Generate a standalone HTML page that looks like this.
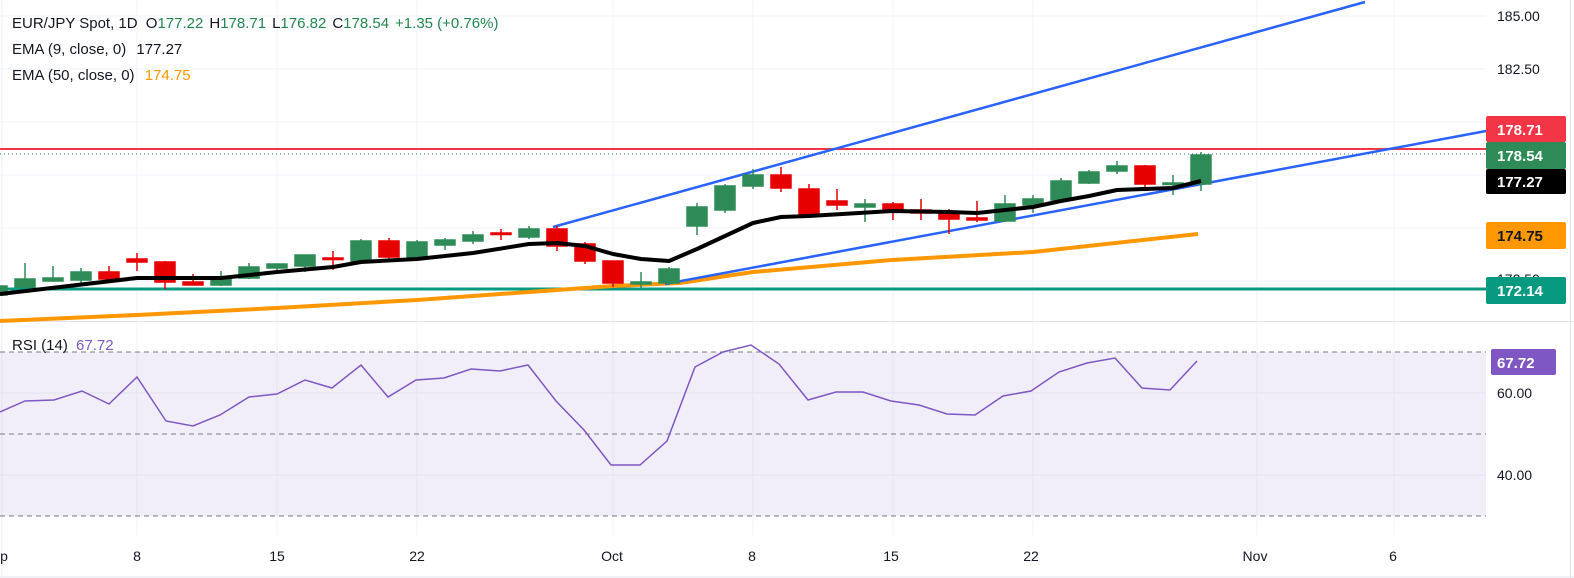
<!DOCTYPE html>
<html><head><meta charset="utf-8"><style>
html,body{margin:0;padding:0;background:#fff;}
svg{display:block;font-family:"Liberation Sans",sans-serif;}
</style></head><body>
<svg width="1574" height="578" viewBox="0 0 1574 578" xmlns="http://www.w3.org/2000/svg">
<rect width="1574" height="578" fill="#fff"/>
<!-- grid -->
<g stroke="#f0f3fa" stroke-width="1">
<line x1="0" y1="16" x2="1486" y2="16"/><line x1="0" y1="69" x2="1486" y2="69"/>
<line x1="0" y1="122" x2="1486" y2="122"/><line x1="0" y1="175" x2="1486" y2="175"/>
<line x1="0" y1="228" x2="1486" y2="228"/><line x1="0" y1="281" x2="1486" y2="281"/>
<line x1="0" y1="393" x2="1486" y2="393"/><line x1="0" y1="475" x2="1486" y2="475"/>
<line x1="137" y1="0" x2="137" y2="535"/><line x1="277" y1="0" x2="277" y2="535"/>
<line x1="417" y1="0" x2="417" y2="535"/><line x1="613" y1="0" x2="613" y2="535"/>
<line x1="753" y1="0" x2="753" y2="535"/><line x1="893" y1="0" x2="893" y2="535"/>
<line x1="1033" y1="0" x2="1033" y2="535"/><line x1="1257" y1="0" x2="1257" y2="535"/>
<line x1="1394" y1="0" x2="1394" y2="535"/>
</g>
<line x1="0" y1="321.5" x2="1574" y2="321.5" stroke="#e0e3eb"/>
<line x1="1570.5" y1="0" x2="1570.5" y2="578" stroke="#e0e3eb"/>
<line x1="0" y1="577" x2="1574" y2="577" stroke="#e0e3eb"/>
<line x1="2" y1="0" x2="2" y2="578" stroke="#eceff4"/>

<!-- horizontal levels -->
<line x1="0" y1="149" x2="1486" y2="149" stroke="#f23645" stroke-width="2"/>
<line x1="0" y1="154" x2="1486" y2="154" stroke="#2e7d5b" stroke-width="1" stroke-dasharray="1,3"/>
<line x1="0" y1="289" x2="1486" y2="289" stroke="#089981" stroke-width="3"/>

<!-- EMA50 -->
<polyline fill="none" stroke="#ff9800" stroke-width="4" stroke-linejoin="round" points="0,321 137,315 277,308 417,300 557,290 613,286 680,283 753,272 892,260 1033,252 1198,234"/>
<!-- channel -->
<line x1="553" y1="227" x2="1365" y2="2" stroke="#2962ff" stroke-width="2.5"/>
<line x1="665" y1="284" x2="1486" y2="131" stroke="#2962ff" stroke-width="2.5"/>
<line x1="1486" y1="131" x2="1492" y2="130" stroke="#2962ff" stroke-width="2.5"/>

<!-- candles -->
<g stroke-width="1.5">
<g stroke="#2e8b57" fill="#2e8b57">
<rect x="-13" y="286" width="20" height="9"/>
<line x1="25" y1="263" x2="25" y2="287"/><rect x="15" y="279" width="20" height="8"/>
<line x1="53" y1="266" x2="53" y2="282"/><rect x="43" y="278" width="20" height="3"/>
<line x1="81" y1="268" x2="81" y2="283"/><rect x="71" y="272" width="20" height="8"/>
<line x1="221" y1="271" x2="221" y2="286"/><rect x="211" y="277" width="20" height="8"/>
<line x1="249" y1="263" x2="249" y2="279"/><rect x="239" y="267" width="20" height="11"/>
<line x1="277" y1="264" x2="277" y2="274"/><rect x="267" y="264" width="20" height="4"/>
<line x1="305" y1="255" x2="305" y2="272"/><rect x="295" y="255" width="20" height="11"/>
<line x1="361" y1="239" x2="361" y2="261"/><rect x="351" y="241" width="20" height="20"/>
<line x1="417" y1="240" x2="417" y2="258"/><rect x="407" y="242" width="20" height="15"/>
<line x1="445" y1="238" x2="445" y2="250"/><rect x="435" y="240" width="20" height="5"/>
<line x1="473" y1="231" x2="473" y2="244"/><rect x="463" y="235" width="20" height="6"/>
<line x1="529" y1="226" x2="529" y2="239"/><rect x="519" y="229" width="20" height="8"/>
<line x1="641" y1="272" x2="641" y2="288"/><rect x="631" y="282" width="20" height="2"/>
<line x1="669" y1="267" x2="669" y2="285"/><rect x="659" y="269" width="20" height="14"/>
<line x1="697" y1="203" x2="697" y2="235"/><rect x="687" y="207" width="20" height="19"/>
<line x1="725" y1="184" x2="725" y2="213"/><rect x="715" y="186" width="20" height="24"/>
<line x1="753" y1="169" x2="753" y2="189"/><rect x="743" y="175" width="20" height="11"/>
<line x1="865" y1="199" x2="865" y2="222"/><rect x="855" y="204" width="20" height="3"/>
<line x1="1005" y1="195" x2="1005" y2="222"/><rect x="995" y="204" width="20" height="17"/>
<line x1="1033" y1="195" x2="1033" y2="213"/><rect x="1023" y="199" width="20" height="6"/>
<line x1="1061" y1="178" x2="1061" y2="202"/><rect x="1051" y="181" width="20" height="19"/>
<line x1="1089" y1="170" x2="1089" y2="184"/><rect x="1079" y="172" width="20" height="11"/>
<line x1="1117" y1="161" x2="1117" y2="174"/><rect x="1107" y="166" width="20" height="5"/>
<line x1="1173" y1="175" x2="1173" y2="195"/><rect x="1163" y="183" width="20" height="1.5"/>
<line x1="1201" y1="152" x2="1201" y2="191"/><rect x="1191" y="155" width="20" height="29"/>
</g>
<g stroke="#e60000" fill="#e60000">
<line x1="109" y1="266" x2="109" y2="283"/><rect x="99" y="272" width="20" height="7"/>
<line x1="137" y1="253" x2="137" y2="271"/><rect x="127" y="259" width="20" height="3"/>
<line x1="165" y1="261" x2="165" y2="289"/><rect x="155" y="262" width="20" height="20"/>
<line x1="193" y1="274" x2="193" y2="285"/><rect x="183" y="282" width="20" height="3"/>
<line x1="333" y1="251" x2="333" y2="270"/><rect x="323" y="258" width="20" height="1.5"/>
<line x1="389" y1="238" x2="389" y2="262"/><rect x="379" y="241" width="20" height="16"/>
<line x1="501" y1="229" x2="501" y2="240"/><rect x="491" y="233" width="20" height="1.5"/>
<line x1="557" y1="226" x2="557" y2="251"/><rect x="547" y="229" width="20" height="17"/>
<line x1="585" y1="242" x2="585" y2="264"/><rect x="575" y="244" width="20" height="17"/>
<line x1="613" y1="261" x2="613" y2="287"/><rect x="603" y="261" width="20" height="22"/>
<line x1="781" y1="167" x2="781" y2="192"/><rect x="771" y="175" width="20" height="13"/>
<line x1="809" y1="184" x2="809" y2="216"/><rect x="799" y="189" width="20" height="25"/>
<line x1="837" y1="189" x2="837" y2="210"/><rect x="827" y="201" width="20" height="4"/>
<line x1="893" y1="202" x2="893" y2="220"/><rect x="883" y="204" width="20" height="7"/>
<line x1="921" y1="199" x2="921" y2="220"/><rect x="911" y="210" width="20" height="3"/>
<line x1="949" y1="209" x2="949" y2="234"/><rect x="939" y="213" width="20" height="6"/>
<line x1="977" y1="201" x2="977" y2="222"/><rect x="967" y="218" width="20" height="2"/>
<line x1="1145" y1="165" x2="1145" y2="187"/><rect x="1135" y="166" width="20" height="18"/>
</g>
</g>
<!-- EMA9 -->
<polyline fill="none" stroke="#000" stroke-width="4" stroke-linejoin="round" points="0,294 137,278 165,278 221,278 277,272 333,267 361,262 417,259 473,253 529,244 557,243 585,246 613,254 641,259 669,261 697,249 725,236 753,223 781,217 809,216 893,211 949,212 977,213 1033,207 1061,201 1089,196 1117,190 1145,189 1173,188 1201,181"/>

<!-- legend -->
<g font-size="15" fill="#131722">
<text x="12" y="28">EUR/JPY Spot, 1D <tspan dx="4">O</tspan><tspan fill="#22864f">177.22</tspan><tspan dx="6">H</tspan><tspan fill="#22864f">178.71</tspan><tspan dx="6">L</tspan><tspan fill="#22864f">176.82</tspan><tspan dx="6">C</tspan><tspan fill="#22864f">178.54</tspan><tspan dx="6" fill="#22864f">+1.35 (+0.76%)</tspan></text>
<text x="12" y="54">EMA (9, close, 0) <tspan dx="6">177.27</tspan></text>
<text x="12" y="80">EMA (50, close, 0) <tspan dx="6" fill="#ff9800">174.75</tspan></text>
</g>

<!-- price axis -->
<g font-size="14" fill="#131722">
<text x="1497" y="21">185.00</text>
<text x="1497" y="74">182.50</text>
<text x="1497" y="284">172.50</text>
</g>
<g font-size="15" font-weight="bold" fill="#fff">
<rect x="1486" y="116" width="80" height="26" rx="2" fill="#f23645"/><text x="1497" y="135">178.71</text>
<rect x="1486" y="142" width="80" height="27" rx="2" fill="#2e8b57"/><text x="1497" y="161">178.54</text>
<rect x="1486" y="169" width="80" height="25" rx="2" fill="#000"/><text x="1497" y="187">177.27</text>
<rect x="1486" y="222" width="80" height="27" rx="2" fill="#ff9800"/><text x="1497" y="241" fill="#131722">174.75</text>
<rect x="1486" y="277" width="80" height="27" rx="2" fill="#089981"/><text x="1497" y="296">172.14</text>
</g>

<!-- RSI -->
<rect x="0" y="352" width="1486" height="164" fill="#7e57c2" fill-opacity="0.1"/>
<g stroke="#787b86" stroke-width="1" stroke-dasharray="5,4">
<line x1="0" y1="352" x2="1486" y2="352"/><line x1="0" y1="434" x2="1486" y2="434"/><line x1="0" y1="516" x2="1486" y2="516"/>
</g>
<polyline fill="none" stroke="#7e57c2" stroke-width="1.5" points="0,412 25,401 54,400 82,391 109,404 137,377 166,421 193,426 220,415 249,397 277,394 305,380 332,388 361,365 388,397 416,380 444,378 471,369 500,371 528,365 556,401 584,430 611,465 640,465 667,441 695,367 723,352 751,345 779,364 808,400 836,392 863,392 891,401 919,405 947,414 975,415 1003,396 1031,391 1059,372 1087,363 1115,358 1142,388 1170,390 1197,361"/>
<text x="12" y="350" font-size="15" fill="#131722">RSI (14) <tspan dx="4" fill="#7e57c2">67.72</tspan></text>
<rect x="1491" y="349" width="65" height="26" rx="2" fill="#7e57c2"/>
<text x="1497" y="368" font-size="15" font-weight="bold" fill="#fff">67.72</text>
<g font-size="14" fill="#131722">
<text x="1497" y="398">60.00</text>
<text x="1497" y="480">40.00</text>
</g>

<!-- time axis -->
<g font-size="14" fill="#131722" text-anchor="middle">
<text x="4" y="561">p</text>
<text x="137" y="561">8</text>
<text x="277" y="561">15</text>
<text x="417" y="561">22</text>
<text x="612" y="561">Oct</text>
<text x="752" y="561">8</text>
<text x="891" y="561">15</text>
<text x="1031" y="561">22</text>
<text x="1255" y="561">Nov</text>
<text x="1393" y="561">6</text>
</g>
</svg>
</body></html>
